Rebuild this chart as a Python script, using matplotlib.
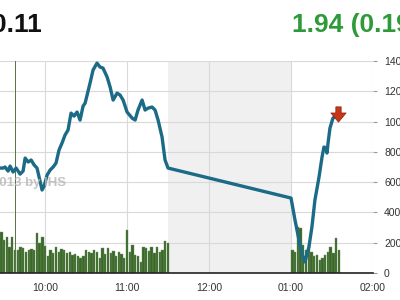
import numpy as np
import matplotlib.pyplot as plt

# times are minutes since midnight (600 = 10:00)
price_times = [567.1, 569.3, 570.7, 572.9, 574.4, 576.6, 578.8, 581.7, 583.9, 585.4,
               587.6, 589.8, 592.0, 594.1, 596.3, 597.8, 599.3, 601.5, 603.7, 605.9,
               608.0, 610.2, 612.4, 614.6, 616.8, 619.0, 621.2, 623.4, 625.6, 627.8,
               629.3, 632.9, 635.1, 638.0, 640.2, 642.4, 645.4, 647.6, 649.8, 652.7,
               654.9, 657.1, 660.0, 663.7, 665.9, 668.0, 671.0, 673.2, 675.4, 678.3,
               680.5, 682.7, 685.6, 687.8, 690.0,
               780.0, 782.9, 785.8, 788.8, 790.2, 793.1, 795.3, 797.5, 800.5, 802.7,
               804.1, 805.6, 806.3, 807.1, 808.5, 810.7, 813.7]
price_values = [693, 693, 700, 673, 706, 667, 693, 653, 673, 759,
                733, 746, 713, 693, 607, 548, 574, 647, 680, 700,
                726, 812, 858, 911, 944, 1056, 1036, 1063, 1010, 1102,
                1122, 1254, 1340, 1386, 1360, 1353, 1294, 1228, 1142, 1188,
                1175, 1142, 1063, 1023, 1010, 1076, 1142, 1076, 1089, 1096,
                1076, 1010, 898, 746, 693,
                495, 350, 218, 106, 73, 172, 304, 482, 634, 766,
                832, 825, 792, 858, 957, 1023, 1040]

vol_times = list(range(566, 692, 2)) + list(range(781, 817, 2))
vol_values = [250, 270, 215, 240, 170, 235, 150, 150, 175, 165,
              140, 150, 160, 150, 265, 200, 235, 180, 110, 150,
              130, 175, 140, 160, 150, 130, 140, 120, 125, 110,
              100, 110, 150, 140, 130, 150, 140, 100, 165, 125,
              165, 130, 145, 110, 140, 125, 100, 285, 140, 185,
              120, 110, 75, 175, 165, 145, 175, 130, 175, 140,
              150, 210, 200,
              150, 140, 305, 295, 185, 150, 185, 140, 110, 120,
              85, 100, 120, 140, 175, 130, 230, 150]
spike_time = 578.5
spike_value = 2000

closed_start, closed_end = 690, 780
marker_time, marker_value = 814.4, 1049

xticks = [600, 660, 720, 780, 840]
xlabels = ['10:00', '11:00', '12:00', '01:00', '02:00']
yticks = [0, 200, 400, 600, 800, 1000, 1200, 1400]

plt.rcParams['font.family'] = ['Liberation Sans', 'DejaVu Sans']

fig = plt.figure(figsize=(4, 3), dpi=100)
ax = fig.add_axes([0, 27/300, 373/400, 212/300])

ax.axvspan(closed_start, closed_end, color='#f0f0f0', zorder=0, lw=0)
ax.bar(vol_times, vol_values, width=1.7, color='#3a6829', edgecolor='#6f9160',
       linewidth=0.3, zorder=2)
ax.bar([spike_time], [spike_value], width=0.7, color='#587a48', zorder=2)
ax.plot(price_times, price_values, color='#1b6a86', lw=2.4, zorder=3,
        solid_joinstyle='round')

# event marker: down arrow
arrow = [(-0.35, 1), (0.35, 1), (0.35, 0.2), (1, 0.2), (0, -1), (-1, 0.2), (-0.35, 0.2), (-0.35, 1)]
ax.plot([marker_time], [marker_value], marker=arrow, ms=11, color='#c8361a',
        mec='#8a2010', mew=0.5, zorder=4, clip_on=False)

ax.set_xlim(567, 840)
ax.set_ylim(0, 1400)
ax.set_xticks(xticks)
ax.set_xticklabels(xlabels)
ax.set_yticks(yticks)
ax.yaxis.tick_right()
ax.tick_params(axis='y', length=3, pad=5, color='#999999', labelsize=7.5, labelcolor='#333333')
ax.tick_params(axis='x', length=0, pad=7, labelsize=7.5, labelcolor='#333333')
ax.grid(True, color='#d9d9d9', lw=0.8, zorder=1)
ax.set_axisbelow(True)
for s in ['top', 'left', 'right']:
    ax.spines[s].set_visible(False)
ax.spines['bottom'].set_color('#222222')
ax.spines['bottom'].set_linewidth(1.2)
ax.spines['bottom'].set_zorder(5)

fig.text(42/400, 1 - 25/300, '0.11', ha='right', va='center', fontsize=19,
         fontweight='bold', color='#111111')
fig.text(292/400, 1 - 25/300, '1.94 (0.19%)', ha='left', va='center', fontsize=19,
         fontweight='bold', color='#2e9a3a')
fig.text(66/400, 1 - 183/300, '\u00a92013 by IHS', ha='right', va='center',
         fontsize=9.5, fontweight='bold', color='#b5b5b5', alpha=0.8, zorder=6)

fig.savefig('out.png', dpi=100)
